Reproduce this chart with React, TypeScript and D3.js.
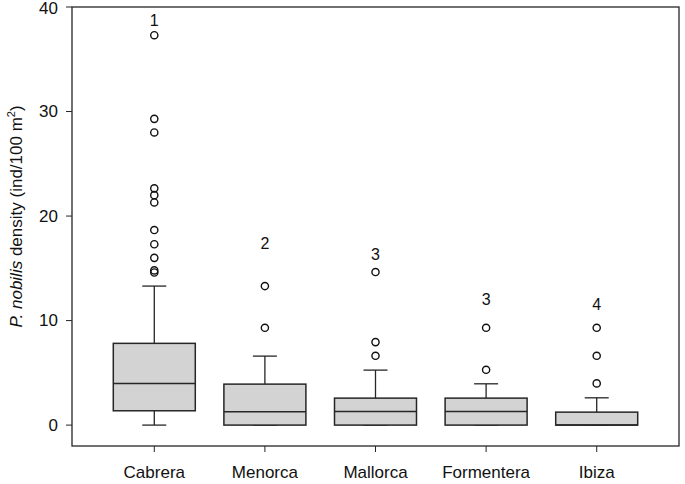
import React from "react";
import * as d3 from "d3";

const categories = ["Cabrera", "Menorca", "Mallorca", "Formentera", "Ibiza"];
const lowerWhisker = [0, 0, 0, 0, 0];
const q1 = [1.37, 0, 0, 0, 0];
const medians = [3.99, 1.27, 1.31, 1.31, 0];
const q3 = [7.82, 3.92, 2.58, 2.58, 1.24];
const upperWhisker = [13.3, 6.6, 5.26, 3.95, 2.61];
const outliers: number[][] = [
  [37.3, 29.3, 28.0, 22.65, 22.0, 21.3, 18.66, 17.3, 16.0, 14.8, 14.6],
  [13.3, 9.31],
  [14.64, 7.94, 6.63],
  [9.31, 5.29],
  [9.31, 6.63, 3.99],
];
const groupLabels = ["1", "2", "3", "3", "4"];
const groupLabelValues = [38.7, 17.4, 16.3, 12.0, 11.5];
const yTicks = [0, 10, 20, 30, 40];

export default function App() {
  const W = 685, H = 484;
  const left = 72, right = 679, top = 7, bottom = 446;
  const y = d3.scaleLinear().domain([-2, 40]).range([bottom, top]);
  const x = d3.scalePoint<string>().domain(categories).range([left, right]).padding(0.744);
  const boxW = 82, capW = 24;
  const font = "Liberation Sans, Arial, sans-serif";
  const stroke = "#262626";

  return (
    <svg width={W} height={H} style={{ position: "absolute", left: 0, top: 0, background: "#fff" }} fontFamily={font}>
      <rect x={0} y={0} width={W} height={H} fill="#fff" />
      {categories.map((c, i) => {
        const cx = x(c)!;
        return (
          <g key={c}>
            <line x1={cx} x2={cx} y1={y(q3[i])} y2={y(upperWhisker[i])} stroke={stroke} strokeWidth={1.3} />
            <line x1={cx - capW / 2} x2={cx + capW / 2} y1={y(upperWhisker[i])} y2={y(upperWhisker[i])} stroke={stroke} strokeWidth={1.3} />
            <line x1={cx} x2={cx} y1={y(q1[i])} y2={y(lowerWhisker[i])} stroke={stroke} strokeWidth={1.3} />
            <line x1={cx - capW / 2} x2={cx + capW / 2} y1={y(lowerWhisker[i])} y2={y(lowerWhisker[i])} stroke={stroke} strokeWidth={1.3} />
            <rect x={cx - boxW / 2} y={y(q3[i])} width={boxW} height={y(q1[i]) - y(q3[i])} fill="#d3d3d3" stroke={stroke} strokeWidth={1.5} />
            <line x1={cx - boxW / 2} x2={cx + boxW / 2} y1={y(medians[i])} y2={y(medians[i])} stroke={stroke} strokeWidth={1.5} />
            {outliers[i].map((v, j) => (
              <circle key={j} cx={cx} cy={y(v)} r={3.6} fill="none" stroke="#111" strokeWidth={1.4} />
            ))}
            <text x={cx} y={y(groupLabelValues[i])} textAnchor="middle" dominantBaseline="central" fontSize={16} fill="#111">
              {groupLabels[i]}
            </text>
            <line x1={cx} x2={cx} y1={bottom} y2={bottom + 6} stroke={stroke} strokeWidth={1} />
            <text x={cx} y={bottom + 32} textAnchor="middle" fontSize={17} fill="#111">{c}</text>
          </g>
        );
      })}
      <rect x={left} y={top} width={right - left} height={bottom - top} fill="none" stroke={stroke} strokeWidth={1.3} />
      {yTicks.map((t) => (
        <g key={t}>
          <line x1={left - 6} x2={left} y1={y(t)} y2={y(t)} stroke={stroke} strokeWidth={1} />
          <text x={left - 14} y={Math.max(y(t), 8)} textAnchor="end" dominantBaseline="central" fontSize={17} fill="#111">{t}</text>
        </g>
      ))}
      <text transform={`translate(22,${(top + bottom) / 2 - 10}) rotate(-90)`} textAnchor="middle" fontSize={17} fill="#111">
        <tspan fontStyle="italic">P. nobilis</tspan>
        <tspan> density (ind/100 m</tspan>
        <tspan fontSize={11} dy={-7}>2</tspan>
        <tspan dy={7}>)</tspan>
      </text>
    </svg>
  );
}
